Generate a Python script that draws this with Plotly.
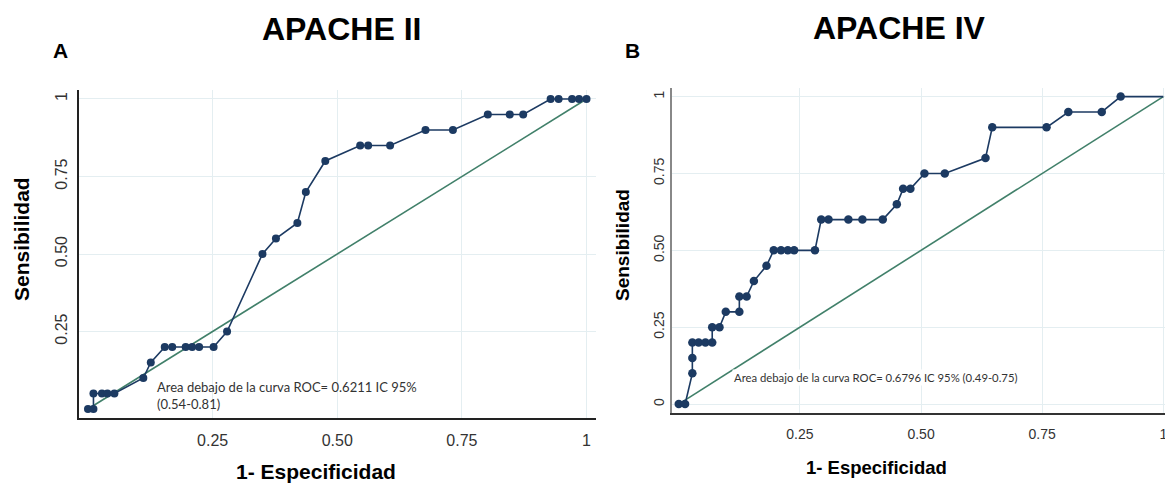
import plotly.graph_objects as go

# ---- Data ----
fpr_a = [0.0, 0.011, 0.011, 0.028, 0.039, 0.053, 0.111, 0.126, 0.154, 0.169, 0.196, 0.209,
         0.223, 0.252, 0.279, 0.350, 0.377, 0.420, 0.437, 0.476, 0.546, 0.562, 0.606, 0.677,
         0.732, 0.802, 0.846, 0.873, 0.928, 0.944, 0.971, 0.985, 1.0]
tpr_a = [0.0, 0.0, 0.05, 0.05, 0.05, 0.05, 0.10, 0.15, 0.20, 0.20, 0.20, 0.20,
         0.20, 0.20, 0.25, 0.50, 0.55, 0.60, 0.70, 0.80, 0.85, 0.85, 0.85, 0.90,
         0.90, 0.95, 0.95, 0.95, 1.0, 1.0, 1.0, 1.0, 1.0]

fpr_b = [0.0, 0.013, 0.028, 0.028, 0.028, 0.041, 0.055, 0.069, 0.069, 0.084, 0.097, 0.125,
         0.125, 0.140, 0.155, 0.181, 0.196, 0.211, 0.225, 0.238, 0.281, 0.294, 0.309, 0.350,
         0.379, 0.421, 0.450, 0.463, 0.478, 0.507, 0.549, 0.633, 0.647, 0.759, 0.804, 0.873,
         0.912, 1.0]
tpr_b = [0.0, 0.0, 0.10, 0.15, 0.20, 0.20, 0.20, 0.20, 0.25, 0.25, 0.30, 0.30,
         0.35, 0.35, 0.40, 0.45, 0.50, 0.50, 0.50, 0.50, 0.50, 0.60, 0.60, 0.60,
         0.60, 0.60, 0.65, 0.70, 0.70, 0.75, 0.75, 0.80, 0.90, 0.90, 0.95, 0.95,
         1.0, 1.0]
# last point of B is only the end of the line (no marker)
n_marked_b = len(fpr_b) - 1

diag = [0.0, 1.0]

xticks = [0.25, 0.5, 0.75, 1.0]
xticktext = ["0.25", "0.50", "0.75", "1"]
yticks_a = [0.25, 0.5, 0.75, 1.0]
yticktext_a = ["0.25", "0.50", "0.75", "1"]
yticks_b = [0.0, 0.25, 0.5, 0.75, 1.0]
yticktext_b = ["0", "0.25", "0.50", "0.75", "1"]

auc_a = "Area debajo de la curva ROC= 0.6211 IC 95%<br>(0.54-0.81)"
auc_b = "Area debajo de la curva ROC= 0.6796 IC 95% (0.49-0.75)"

# page has an 8px body margin: figure is sized to fit the window exactly
OFF = 8
W, H = 1173 - OFF, 483 - OFF
NAVY = "#1c3a62"
GREEN = "#41806a"
GRID = "#e4eef1"

def px(x):
    return (x - OFF) / W

def py(y):
    return (H - (y - OFF)) / H

fig = go.Figure()

# Panel A
fig.add_trace(go.Scatter(x=diag, y=diag, mode="lines", line=dict(color=GREEN, width=1.6),
                         xaxis="x", yaxis="y", showlegend=False, hoverinfo="skip"))
fig.add_trace(go.Scatter(x=fpr_a, y=tpr_a, mode="lines+markers",
                         line=dict(color=NAVY, width=1.6),
                         marker=dict(color=NAVY, size=8, opacity=1),
                         xaxis="x", yaxis="y", showlegend=False))
# Panel B
fig.add_trace(go.Scatter(x=diag, y=diag, mode="lines", line=dict(color=GREEN, width=1.6),
                         xaxis="x2", yaxis="y2", showlegend=False, hoverinfo="skip"))
fig.add_trace(go.Scatter(x=fpr_b, y=tpr_b, mode="lines",
                         line=dict(color=NAVY, width=1.6),
                         xaxis="x2", yaxis="y2", showlegend=False, hoverinfo="skip"))
fig.add_trace(go.Scatter(x=fpr_b[:n_marked_b], y=tpr_b[:n_marked_b], mode="markers",
                         marker=dict(color=NAVY, size=8.5, opacity=1),
                         xaxis="x2", yaxis="y2", showlegend=False))

tickfont_a = dict(family="Liberation Sans, Arial, sans-serif", size=16, color="#333333")
tickfont_b = dict(family="Liberation Sans, Arial, sans-serif", size=14, color="#333333")

common_x = dict(showgrid=True, gridcolor=GRID, gridwidth=1, zeroline=False,
                showline=True, ticks="outside", tickcolor="rgba(0,0,0,0)",
                ticklabeloverflow="allow")
common_y = dict(showgrid=True, gridcolor=GRID, gridwidth=1, zeroline=False,
                showline=True, ticks="outside", tickangle=-90, tickcolor="rgba(0,0,0,0)")

fig.update_layout(
    width=W, height=H,
    margin=dict(l=0, r=0, t=0, b=0),
    paper_bgcolor="white", plot_bgcolor="white",
    xaxis=dict(domain=[px(79), px(596)], range=[-0.018, 1.019], anchor="y",
               tickvals=xticks, ticktext=xticktext, tickfont=tickfont_a,
               linecolor="#222222", linewidth=2, ticklen=7, **common_x),
    yaxis=dict(domain=[py(418), py(90)], range=[-0.029, 1.029], anchor="x",
               tickvals=yticks_a, ticktext=yticktext_a, tickfont=tickfont_a,
               linecolor="#222222", linewidth=2, ticklen=4, **common_y),
    xaxis2=dict(domain=[px(672), 1.0], range=[-0.014, 1.02], anchor="y2",
                tickvals=xticks, ticktext=xticktext, tickfont=tickfont_b,
                linecolor="#333333", linewidth=2, ticklen=7, **common_x),
    yaxis2=dict(domain=[py(413), py(88)], range=[-0.029, 1.028], anchor="x2",
                tickvals=yticks_b, ticktext=yticktext_b, tickfont=tickfont_b,
                linecolor="#888888", linewidth=1.5, ticklen=1, **common_y),
)

bold = "Liberation Sans, Arial, sans-serif"
ann = [
    dict(text="<b>APACHE II</b>", x=px(342), y=py(29), size=32),
    dict(text="<b>APACHE IV</b>", x=px(899), y=py(28), size=32),
    dict(text="<b>A</b>", x=px(60), y=py(50), size=21),
    dict(text="<b>B</b>", x=px(632), y=py(50), size=21),
    dict(text="<b>1- Especificidad</b>", x=px(316), y=py(471), size=21),
    dict(text="<b>1- Especificidad</b>", x=px(876), y=py(467), size=18.5),
]
for a in ann:
    fig.add_annotation(text=a["text"], x=a["x"], y=a["y"], xref="paper", yref="paper",
                       xanchor="center", yanchor="middle", showarrow=False,
                       font=dict(family=bold, size=a["size"], color="#000000"))
fig.add_annotation(text="<b>Sensibilidad</b>", x=px(21), y=py(239), xref="paper", yref="paper",
                   textangle=-90, showarrow=False, xanchor="center", yanchor="middle",
                   font=dict(family=bold, size=21, color="#000000"))
fig.add_annotation(text="<b>Sensibilidad</b>", x=px(623), y=py(245), xref="paper", yref="paper",
                   textangle=-90, showarrow=False, xanchor="center", yanchor="middle",
                   font=dict(family=bold, size=19, color="#000000"))

# AUC notes
fig.add_annotation(text=auc_a, x=0.134, y=0.045, xref="x", yref="y", showarrow=False,
                   xanchor="left", yanchor="middle", align="left",
                   font=dict(family="Lato, Open Sans, sans-serif", size=13, color="#333333"))
fig.add_annotation(text=auc_b, x=0.11, y=0.085, xref="x2", yref="y2", showarrow=False,
                   xanchor="left", yanchor="middle", align="left", bgcolor="white",
                   font=dict(family="Lato, Open Sans, sans-serif", size=11.3, color="#333333"))

fig.write_html("out.html")
